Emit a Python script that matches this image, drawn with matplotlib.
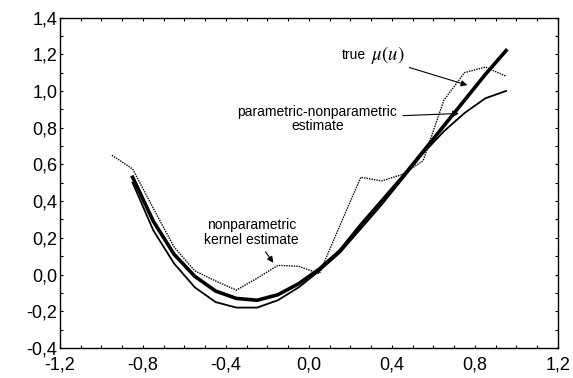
import numpy as np
import matplotlib.pyplot as plt
from matplotlib.ticker import FuncFormatter, MultipleLocator

# sample points
u_kernel = [-0.95, -0.85, -0.75, -0.65, -0.55, -0.45, -0.35, -0.25, -0.15, -0.05,
            0.05, 0.15, 0.25, 0.35, 0.45, 0.55, 0.65, 0.75, 0.85, 0.95]
kernel_est = [0.65, 0.575, 0.36, 0.15, 0.02, -0.035, -0.085, -0.02, 0.05, 0.045,
              0.005, 0.27, 0.53, 0.51, 0.545, 0.62, 0.95, 1.10, 1.13, 1.08]

u = [-0.85, -0.75, -0.65, -0.55, -0.45, -0.35, -0.25, -0.15, -0.05,
     0.05, 0.15, 0.25, 0.35, 0.45, 0.55, 0.65, 0.75, 0.85, 0.95]
true_mu = [0.53, 0.29, 0.11, -0.01, -0.09, -0.13, -0.14, -0.11, -0.05,
           0.03, 0.13, 0.27, 0.40, 0.53, 0.67, 0.81, 0.95, 1.09, 1.22]
par_nonpar = [0.50, 0.24, 0.06, -0.07, -0.15, -0.18, -0.18, -0.14, -0.07,
              0.02, 0.12, 0.25, 0.38, 0.52, 0.66, 0.78, 0.88, 0.96, 1.00]

plt.rcParams['font.family'] = ['Liberation Sans', 'DejaVu Sans']
plt.rcParams['mathtext.fontset'] = 'stix'

fig = plt.figure(figsize=(5.73, 3.78), dpi=100)
ax = fig.add_axes([0.1047, 0.0794, 0.8691, 0.8743])

ax.plot(u_kernel, kernel_est, color='black', lw=1.0, ls=(0, (1, 0.8)))
ax.plot(u, par_nonpar, color='black', lw=1.3)
ax.plot(u, true_mu, color='black', lw=2.6)

arrow = dict(arrowstyle='-|>', color='black', lw=0.8, mutation_scale=9)
# true mu label, arrow starts just below it
ax.text(0.215, 1.196, 'true', ha='center', va='center', fontsize=10)
ax.text(0.30, 1.196, r'$\mu(u)$', ha='left', va='center', fontsize=13.5)
ax.annotate('', xy=(0.776, 1.027), xytext=(0.471, 1.132), arrowprops=arrow)
ax.annotate('parametric-nonparametric\nestimate', xy=(0.736, 0.878),
            xytext=(0.041, 0.847), ha='center', va='center', fontsize=10,
            linespacing=1.05, arrowprops=arrow)
ax.annotate('nonparametric\nkernel estimate', xy=(-0.164, 0.052),
            xytext=(-0.276, 0.229), ha='center', va='center', fontsize=10,
            linespacing=1.05, arrowprops=arrow)

ax.set_xlim(-1.2, 1.2)
ax.set_ylim(-0.4, 1.4)
ax.xaxis.set_major_locator(MultipleLocator(0.4))
ax.xaxis.set_minor_locator(MultipleLocator(0.1))
ax.yaxis.set_major_locator(MultipleLocator(0.2))
ax.yaxis.set_minor_locator(MultipleLocator(0.1))
comma = FuncFormatter(lambda v, p: ('%.1f' % v).replace('.', ',').replace('-0,0', '0,0'))
ax.xaxis.set_major_formatter(comma)
ax.yaxis.set_major_formatter(comma)
ax.tick_params(which='both', direction='in', top=True, right=True, length=2.5,
               width=0.8, labelsize=13)
ax.tick_params(axis='x', pad=6)
ax.tick_params(axis='y', pad=2)
for s in ax.spines.values():
    s.set_linewidth(1.0)

fig.savefig('out.png', dpi=100)
